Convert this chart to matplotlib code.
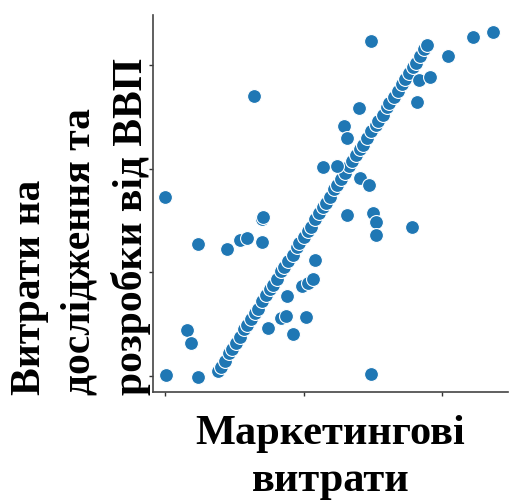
import matplotlib
matplotlib.use('agg')
import matplotlib.pyplot as plt

# points lying on the dense diagonal band
line_x = [0.38, 0.40, 0.43, 0.46, 0.48, 0.51, 0.54, 0.57, 0.59, 0.62, 0.65, 0.67,
          0.70, 0.73, 0.76, 0.78, 0.81, 0.84, 0.86, 0.89, 0.92, 0.95, 0.97, 1.00,
          1.03, 1.05, 1.08, 1.11, 1.14, 1.16, 1.19, 1.22, 1.24, 1.27, 1.30, 1.33,
          1.35, 1.38, 1.41, 1.43, 1.46, 1.49, 1.52, 1.54, 1.57, 1.60, 1.62, 1.65,
          1.68, 1.71, 1.73, 1.76, 1.79, 1.81, 1.84, 1.87, 1.89]
line_y = [0.05, 0.09, 0.15, 0.22, 0.26, 0.32, 0.38, 0.45, 0.49, 0.55, 0.61, 0.65,
          0.72, 0.78, 0.84, 0.88, 0.94, 1.01, 1.05, 1.11, 1.17, 1.24, 1.28, 1.34,
          1.40, 1.44, 1.51, 1.57, 1.63, 1.67, 1.73, 1.80, 1.84, 1.90, 1.96, 2.03,
          2.07, 2.13, 2.19, 2.23, 2.30, 2.36, 2.42, 2.46, 2.52, 2.59, 2.63, 2.69,
          2.75, 2.82, 2.86, 2.92, 2.98, 3.02, 3.09, 3.15, 3.19]

# scattered points off the band
other_x = [0.00, 0.01, 0.24, 0.16, 0.19, 0.24, 0.45, 0.54, 0.59, 0.70, 0.70, 0.71,
           0.64, 0.74, 0.84, 0.87, 0.88, 0.92, 1.02, 0.99, 1.03, 1.07, 1.08, 1.14,
           1.24, 1.29, 1.31, 1.31, 1.40, 1.41, 1.47, 1.49, 1.49, 1.50, 1.52, 1.52,
           1.78, 1.82, 1.83, 1.91, 2.04, 2.22, 2.37]
other_y = [1.73, 0.01, -0.01, 0.44, 0.32, 1.27, 1.23, 1.31, 1.33, 1.29, 1.51, 1.53,
           2.70, 0.46, 0.56, 0.58, 0.77, 0.41, 0.57, 0.87, 0.90, 0.94, 1.12, 2.02,
           2.03, 2.41, 2.30, 1.55, 2.58, 1.91, 1.84, 3.23, 0.02, 1.57, 1.49, 1.36,
           1.44, 2.64, 2.85, 2.88, 3.09, 3.27, 3.32]

x_ticks = [0, 1, 2]
y_ticks = [0, 1, 2, 3]

plt.rcParams['font.family'] = ['Liberation Serif', 'DejaVu Serif']

fig = plt.figure(figsize=(5.26, 5.04), dpi=100)
ax = fig.add_axes([0.291, 0.222, 0.675, 0.748])

ax.scatter(line_x + other_x, line_y + other_y, s=100, color='#1f77b4',
           edgecolor='white', linewidth=0.8, zorder=3)

ax.set_xlim(-0.087, 2.477)
ax.set_ylim(-0.154, 3.48)
ax.set_xticks(x_ticks)
ax.set_yticks(y_ticks)
ax.set_xticklabels([])
ax.set_yticklabels([])
ax.tick_params(length=3, width=1, color='#333333')
for side in ['top', 'right']:
    ax.spines[side].set_visible(False)
for side in ['left', 'bottom']:
    ax.spines[side].set_color('#444444')
    ax.spines[side].set_linewidth(1.2)

ax.set_xlabel('Маркетингові\nвитрати', fontsize=30.5, fontweight='bold',
              linespacing=1.32, va='top')
ax.xaxis.set_label_coords(0.5, -0.06)
ax.set_ylabel('Витрати на\nдослідження та\nрозробки від ВВП', fontsize=30,
              fontweight='bold', linespacing=1.4, multialignment='left')
ax.yaxis.set_label_coords(-0.005, 0.44)

plt.savefig('out.png')
